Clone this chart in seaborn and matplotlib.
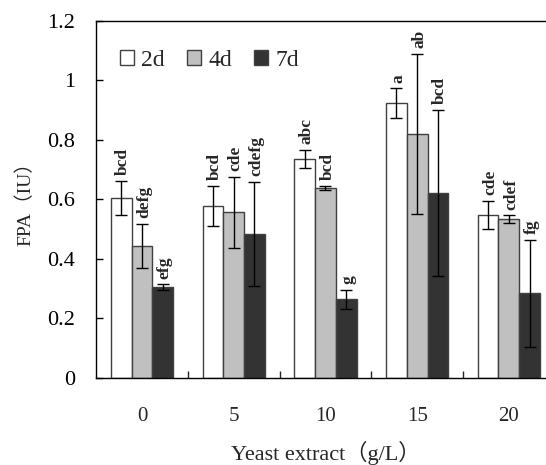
import matplotlib
matplotlib.use('Agg')
import matplotlib.pyplot as plt
import seaborn as sns
import pandas as pd

# Data
yeast = ['0', '5', '10', '15', '20']
days = ['2d', '4d', '7d']
fpa_2d = [0.605, 0.578, 0.736, 0.924, 0.547]
fpa_4d = [0.443, 0.556, 0.638, 0.820, 0.533]
fpa_7d = [0.304, 0.483, 0.264, 0.621, 0.284]
err_2d = [0.058, 0.068, 0.031, 0.050, 0.047]
err_4d = [0.075, 0.120, 0.007, 0.270, 0.013]
err_7d = [0.010, 0.175, 0.032, 0.280, 0.180]
sig_2d = ['bcd', 'bcd', 'abc', 'a', 'cde']
sig_4d = ['defg', 'cde', 'bcd', 'ab', 'cdef']
sig_7d = ['efg', 'cdefg', 'g', 'bcd', 'fg']

values = [fpa_2d, fpa_4d, fpa_7d]
errors = [err_2d, err_4d, err_7d]
letters = [sig_2d, sig_4d, sig_7d]

df = pd.DataFrame({
    'yeast': yeast * 3,
    'day': [d for d in days for _ in yeast],
    'fpa': fpa_2d + fpa_4d + fpa_7d,
})

sns.set_style('white')
serif = ['Liberation Serif', 'Noto Sans CJK SC']
plt.rcParams['font.family'] = serif

fig = plt.figure(figsize=(5.46, 4.65), dpi=100)
ax = fig.add_axes([0.176, 0.188, 0.84, 0.767])

colors = ['#ffffff', '#c0c0c0', '#333333']
sns.barplot(data=df, x='yeast', y='fpa', hue='day', order=yeast, hue_order=days,
            palette=colors, width=0.68, gap=0, errorbar=None,
            edgecolor='#404040', linewidth=1, saturation=1, ax=ax)

bar_groups = list(ax.containers[:3])
for i, cont in enumerate(bar_groups):
    xs = [b.get_x() + b.get_width() / 2 for b in cont]
    ax.errorbar(xs, values[i], yerr=errors[i], fmt='none', ecolor='black',
                elinewidth=1, capsize=4.5, capthick=1)
    for x, v, e, lab in zip(xs, values[i], errors[i], letters[i]):
        ax.annotate(lab, (x, v + e), xytext=(1.5, 4), textcoords='offset points',
                    rotation=90, ha='center', va='bottom', fontsize=12.5,
                    fontweight='bold', family=serif)

ax.set_xlim(-0.5, 4.5)
ax.set_ylim(0, 1.2)
ax.set_yticks([0, 0.2, 0.4, 0.6, 0.8, 1.0, 1.2])
ax.set_yticklabels(['0', '0.2', '0.4', '0.6', '0.8', '1', '1.2'])
ax.tick_params(axis='y', direction='in', length=5, width=1, pad=15,
               labelsize=16, left=True, colors='black')
ax.tick_params(axis='x', length=0, pad=21, labelsize=15)
ax.set_xticks([0.5, 1.5, 2.5, 3.5], minor=True)
ax.tick_params(axis='x', which='minor', direction='in', length=5, width=1,
               bottom=True)

for s in ['left', 'bottom', 'top']:
    ax.spines[s].set_color('black')
    ax.spines[s].set_linewidth(1)
ax.spines['right'].set_visible(False)

ax.set_xlabel('Yeast extract（g/L）', fontsize=16, labelpad=11, family=serif)
ax.set_ylabel('FPA（IU）', fontsize=14, labelpad=9, family=serif)

ax.legend(loc='upper left', bbox_to_anchor=(0.015, 0.965), ncol=3, frameon=False,
          fontsize=17, handlelength=0.6, handleheight=0.6, handletextpad=0.3,
          columnspacing=0.95, borderaxespad=0.3)

fig.savefig('out.png', dpi=100)
